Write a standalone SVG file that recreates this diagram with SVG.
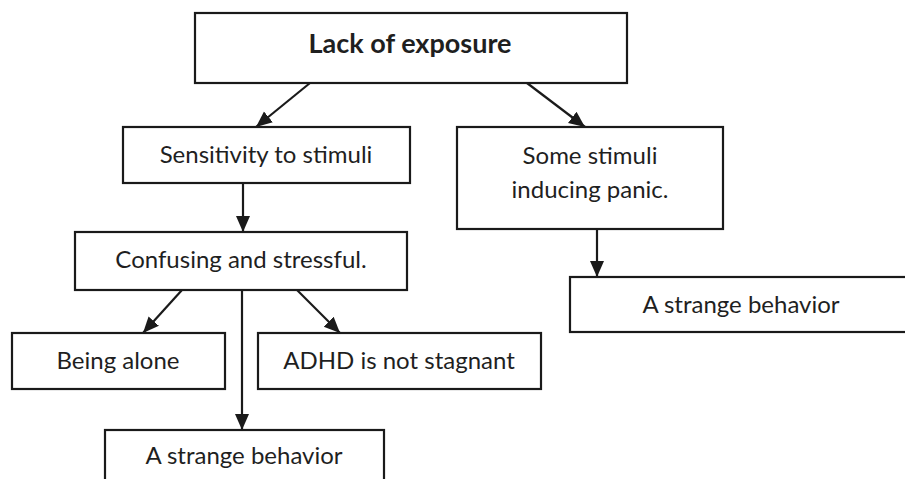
<svg xmlns="http://www.w3.org/2000/svg" width="905" height="479" viewBox="0 0 905 479">
  <defs>
    <style>
      .box { fill: #ffffff; stroke: #1a1a1a; stroke-width: 2.2; }
      .lbl { font-family: Lato, "Open Sans", "Liberation Sans", sans-serif; font-size: 24px; fill: #1f1f1f; text-anchor: middle; }
      .title { font-weight: bold; font-size: 27px; }
      .edge { stroke: #1a1a1a; stroke-width: 2.2; fill: none; marker-end: url(#arrow); }
    </style>
    <marker id="arrow" markerUnits="userSpaceOnUse" markerWidth="18" markerHeight="18" viewBox="0 0 18 18" refX="16" refY="9" orient="auto">
      <path d="M0,2 L16,9 L0,16 Z" fill="#1a1a1a"/>
    </marker>
  </defs>
  <rect width="905" height="479" fill="#ffffff"/>

  <g id="connectors">
    <line class="edge" x1="310" y1="83" x2="256" y2="127"/>
    <line class="edge" x1="527" y1="83" x2="585" y2="127"/>
    <line class="edge" x1="243" y1="183" x2="243" y2="232"/>
    <line class="edge" x1="597" y1="229" x2="597" y2="277"/>
    <line class="edge" x1="182" y1="290" x2="143" y2="333"/>
    <line class="edge" x1="297" y1="290" x2="340" y2="333"/>
    <line class="edge" x1="242" y1="290" x2="242" y2="430"/>
  </g>

  <g id="lack-of-exposure">
    <rect class="box" x="195" y="13" width="432" height="70"/>
    <text class="lbl title" x="410" y="53">Lack of exposure</text>
  </g>

  <g id="sensitivity">
    <rect class="box" x="123" y="127" width="287" height="56"/>
    <text class="lbl" x="266" y="163">Sensitivity to stimuli</text>
  </g>

  <g id="panic">
    <rect class="box" x="457" y="127" width="266" height="102"/>
    <text class="lbl" x="590" y="164">Some stimuli</text>
    <text class="lbl" x="590" y="198">inducing panic.</text>
  </g>

  <g id="confusing">
    <rect class="box" x="75" y="232" width="332" height="58"/>
    <text class="lbl" x="241" y="268">Confusing and stressful.</text>
  </g>

  <g id="strange-right">
    <rect class="box" x="570" y="277" width="342" height="55"/>
    <text class="lbl" x="741" y="313">A strange behavior</text>
  </g>

  <g id="being-alone">
    <rect class="box" x="12" y="333" width="213" height="56"/>
    <text class="lbl" x="118" y="369">Being alone</text>
  </g>

  <g id="adhd">
    <rect class="box" x="258" y="333" width="283" height="56"/>
    <text class="lbl" x="399" y="369">ADHD is not stagnant</text>
  </g>

  <g id="strange-bottom">
    <rect class="box" x="105" y="430" width="279" height="60"/>
    <text class="lbl" x="244" y="464">A strange behavior</text>
  </g>
</svg>
